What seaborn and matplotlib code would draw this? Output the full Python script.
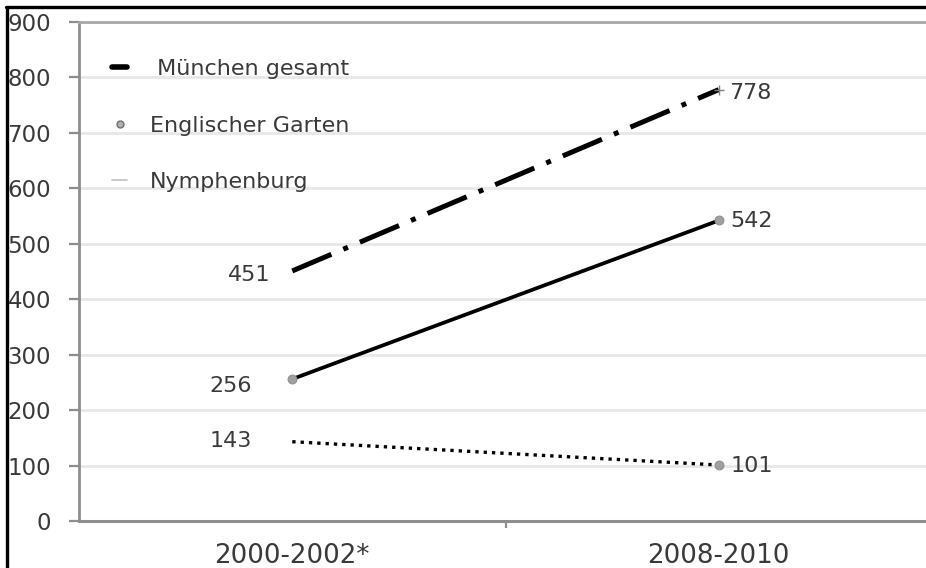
import matplotlib
matplotlib.use("Agg")
import matplotlib.pyplot as plt
from matplotlib.lines import Line2D
import seaborn as sns
import numpy as np

# ---- data ----
categories = ["2000-2002*", "2008-2010"]
muenchen = [451, 778]
englischer = [256, 542]
nymphenburg = [143, 101]
series_names = ["München gesamt", "Englischer Garten", "Nymphenburg"]
yticks = [0, 100, 200, 300, 400, 500, 600, 700, 800, 900]

sns.set_style("white")
plt.rcParams["font.family"] = ["DejaVu Sans"]

W, H = 926, 568
fig = plt.figure(figsize=(W / 100, H / 100), dpi=100)
ax = fig.add_axes([79 / W, 47 / H, 853 / W, 499 / H])

xs = np.arange(len(categories))
axis_grey = "#8e8e8e"
text_grey = "#3a3a3a"

# gridlines
ax.set_ylim(0, 900)
ax.set_xlim(-0.5, 1.5)
ax.set_yticks(yticks)
ax.yaxis.grid(True, color="#e8e8e8", linewidth=2)
ax.set_axisbelow(True)

# lines
sns.lineplot(x=xs, y=muenchen, ax=ax, color="black", linewidth=3.6)
ax.lines[-1].set_linestyle((0, (8.5, 2.6, 1.0, 2.6)))
sns.lineplot(x=xs, y=englischer, ax=ax, color="black", linewidth=2.7)
sns.lineplot(x=xs, y=nymphenburg, ax=ax, color="black", linewidth=2.4)
ax.lines[-1].set_linestyle((0, (1.0, 1.5)))
for ln in ax.lines:
    ln.set_solid_capstyle("butt")
    ln.set_dash_capstyle("butt")

# markers
sns.scatterplot(x=xs, y=englischer, ax=ax, color="#a0a0a0", s=40,
                edgecolor="#909090", linewidth=0.8, zorder=5)
sns.scatterplot(x=[xs[1]], y=[nymphenburg[1]], ax=ax, color="#a0a0a0", s=40,
                edgecolor="#909090", linewidth=0.8, zorder=5)
sns.scatterplot(x=[xs[1]], y=[muenchen[1]], ax=ax, color="#808080", marker="+",
                s=50, linewidth=1.0, zorder=5)

# value labels
fs_val = 16
def lab(x, y, txt, dx_px, dy_px, ha):
    ax.annotate(txt, (x, y), xytext=(dx_px * 0.72, dy_px * 0.72),
                textcoords="offset points", ha=ha, va="center",
                fontsize=fs_val, color=text_grey)

lab(0, muenchen[0], str(muenchen[0]), -22, -4, "right")
lab(0, englischer[0], str(englischer[0]), -40, -7, "right")
lab(0, nymphenburg[0], str(nymphenburg[0]), -40, 1, "right")
lab(1, muenchen[1], str(muenchen[1]), 10, -3, "left")
lab(1, englischer[1], str(englischer[1]), 12, -1, "left")
lab(1, nymphenburg[1], str(nymphenburg[1]), 12, -1, "left")

# axes styling
ax.spines["right"].set_visible(False)
ax.spines["top"].set_color("#a8a8a8")
ax.spines["top"].set_linewidth(2)
ax.spines["left"].set_color(axis_grey)
ax.spines["left"].set_linewidth(2)
ax.spines["bottom"].set_color(axis_grey)
ax.spines["bottom"].set_linewidth(2.2)

ax.tick_params(axis="y", direction="out", length=7, width=1.6, color=axis_grey,
               labelsize=16.5, labelcolor=text_grey, pad=13, left=True)
ax.set_xticks(xs)
ax.set_xticklabels(categories)
ax.tick_params(axis="x", length=0, labelsize=18.8, labelcolor=text_grey, pad=16)
ax.set_xticks([0.5], minor=True)
ax.tick_params(axis="x", which="minor", direction="out", length=5, width=1.6,
               color=axis_grey, bottom=True)

# legend
handles = [
    Line2D([0], [0], color="black", linewidth=4.0),
    Line2D([0], [0], color="#909090", linewidth=0, marker="o", markersize=5,
           markerfacecolor="#b0b0b0", markeredgecolor="#707070"),
    Line2D([0], [0], color="#c0c0c0", linewidth=1.2),
]
leg = ax.legend(handles, [" " + series_names[0], series_names[1], series_names[2]],
                loc="upper left", bbox_to_anchor=(24 / 853, 1 - 28 / 499),
                frameon=False, fontsize=16, handlelength=0.7,
                handletextpad=1.0, labelspacing=1.65, borderaxespad=0)
for t in leg.get_texts():
    t.set_color(text_grey)

# black frame at left/top (screenshot border)
fig.add_artist(Line2D([6.5 / W, 6.5 / W], [0, 1 - 6.5 / H], color="black",
                      linewidth=2.4, transform=fig.transFigure))
fig.add_artist(Line2D([5.5 / W, 1], [1 - 6.5 / H, 1 - 6.5 / H], color="black",
                      linewidth=2.4, transform=fig.transFigure))

fig.savefig("out.png", dpi=100)
